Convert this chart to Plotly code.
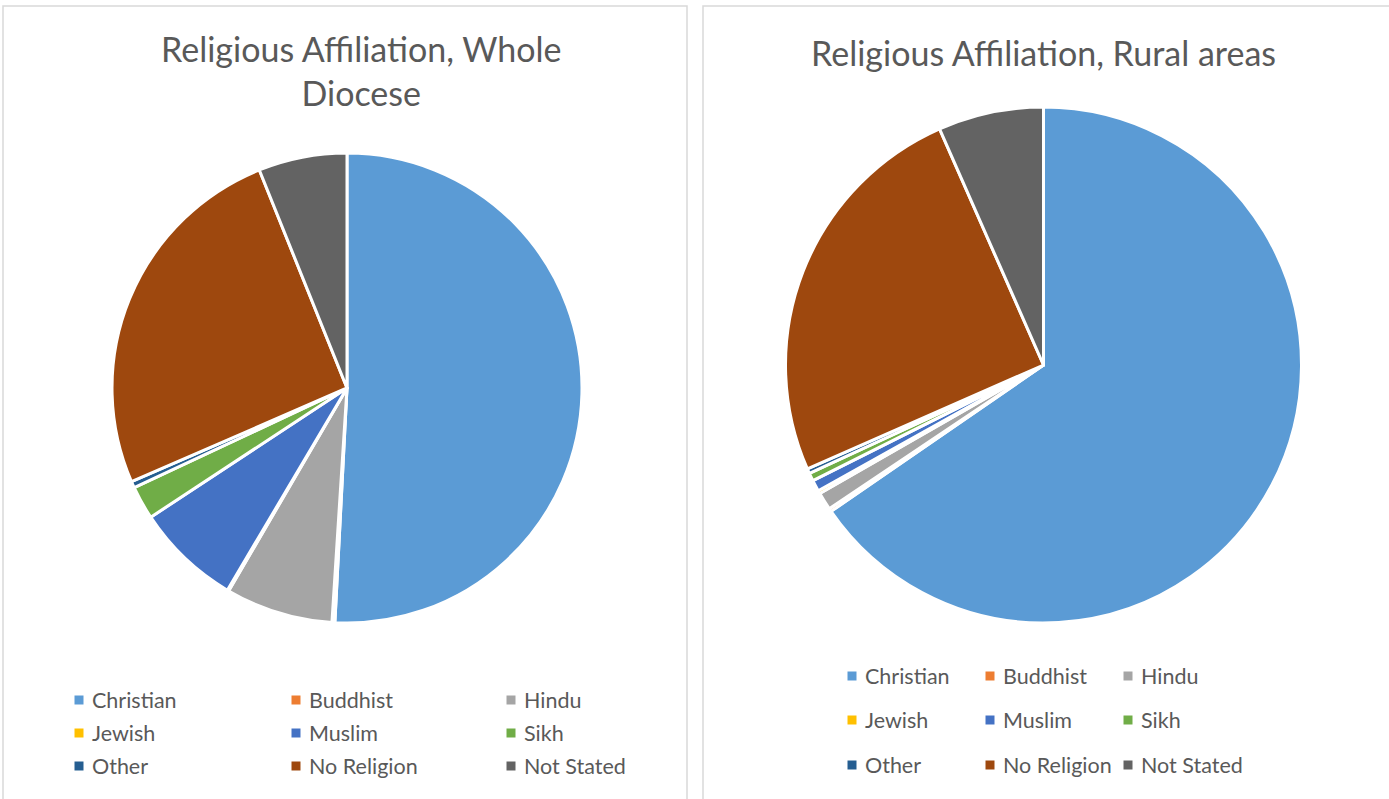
import plotly.graph_objects as go

W, H = 1389, 799

categories = ["Christian", "Buddhist", "Hindu", "Jewish", "Muslim", "Sikh",
              "Other", "No Religion", "Not Stated"]
whole_diocese = [50.95, 0.2, 7.4, 0.1, 7.25, 2.3, 0.45, 25.5, 6.1]
rural_areas = [65.4, 0.2, 1.1, 0.2, 0.7, 0.5, 0.3, 25.0, 6.6]
colors = ["#5B9BD5", "#ED7D31", "#A5A5A5", "#FFC000", "#4472C4", "#70AD47",
          "#255E91", "#9E480E", "#636363"]
titles = ["Religious Affiliation, Whole<br>Diocese", "Religious Affiliation, Rural areas"]

FONT = "Lato"
TXT = "#595959"


def px(x):
    return x / W


def py(y):
    return 1 - y / H


fig = go.Figure()

# pie geometry (pixel centre, radius)
pies = [
    dict(values=whole_diocese, cx=347, cy=388, r=235),
    dict(values=rural_areas, cx=1043.5, cy=365, r=258),
]
for p in pies:
    fig.add_trace(go.Pie(
        labels=categories, values=p["values"],
        marker=dict(colors=colors, line=dict(color="white", width=3)),
        sort=False, direction="clockwise", rotation=0,
        textinfo="none", hoverinfo="label+percent", showlegend=False,
        domain=dict(x=[px(p["cx"] - p["r"]), px(p["cx"] + p["r"])],
                    y=[py(p["cy"] + p["r"]), py(p["cy"] - p["r"])]),
    ))

shapes = []
annotations = []

# panel borders
for x0, x1 in [(3, 687), (703, 1400)]:
    shapes.append(dict(type="rect", xref="paper", yref="paper",
                       x0=px(x0), x1=px(x1), y0=py(810), y1=py(6),
                       line=dict(color="#D9D9D9", width=1.5), fillcolor="rgba(0,0,0,0)"))

# titles
annotations.append(dict(text=titles[0], x=px(361), y=py(70.5), xref="paper", yref="paper",
                        xanchor="center", yanchor="middle", showarrow=False,
                        font=dict(family=FONT, size=34, color=TXT)))
annotations.append(dict(text=titles[1], x=px(1043), y=py(52), xref="paper", yref="paper",
                        xanchor="center", yanchor="middle", showarrow=False,
                        font=dict(family=FONT, size=34, color=TXT)))

# legends (3 columns x 3 rows)
legends = [
    dict(cols=[79, 296, 511], rows=[700, 733, 766]),
    dict(cols=[852, 990, 1128], rows=[676, 720, 765]),
]
for lg in legends:
    for i, (cat, col) in enumerate(zip(categories, colors)):
        cx = lg["cols"][i % 3]
        cy = lg["rows"][i // 3]
        shapes.append(dict(type="rect", xref="paper", yref="paper",
                           x0=px(cx - 4.5), x1=px(cx + 4.5),
                           y0=py(cy + 4.5), y1=py(cy - 4.5),
                           line=dict(width=0), fillcolor=col))
        annotations.append(dict(text=cat, x=px(cx + 11), y=py(cy), xref="paper", yref="paper",
                                xanchor="left", yanchor="middle", showarrow=False,
                                font=dict(family=FONT, size=21.5, color=TXT)))

fig.update_layout(
    width=W, height=H, autosize=False,
    margin=dict(l=0, r=0, t=0, b=0),
    paper_bgcolor="white", plot_bgcolor="white",
    shapes=shapes, annotations=annotations,
    showlegend=False,
)

fig.write_html("out.html", config={"displayModeBar": False},
               post_script="document.body.style.margin='0';document.body.style.overflow='hidden';")
